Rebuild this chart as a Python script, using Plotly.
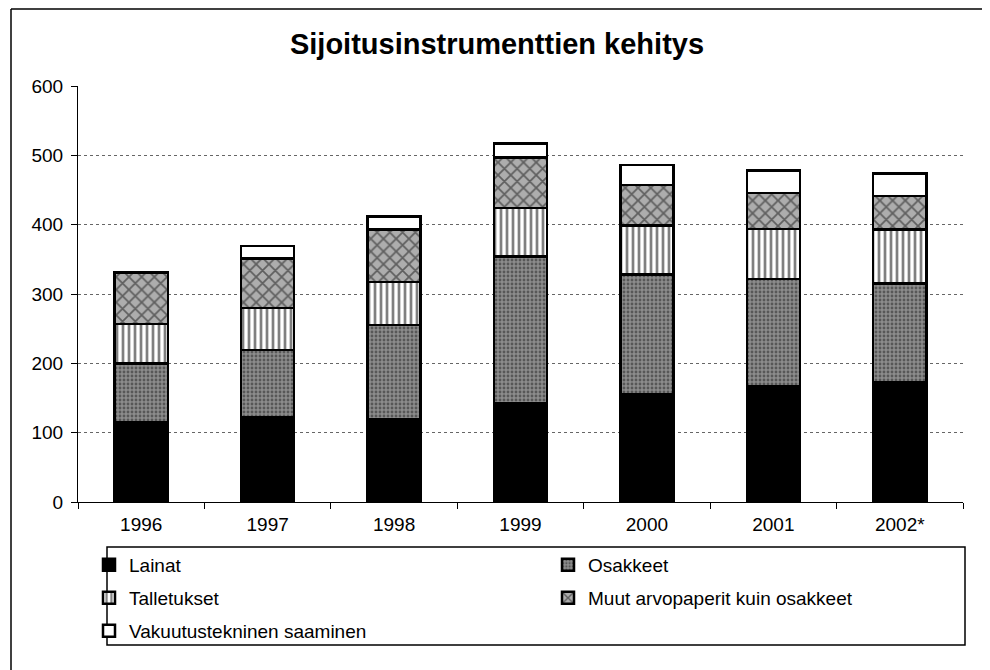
import plotly.graph_objects as go

years = ["1996", "1997", "1998", "1999", "2000", "2001", "2002*"]
lainat = [115, 122, 120, 143, 156, 167, 173]
osakkeet = [85, 97, 135, 211, 172, 155, 142]
talletukset = [57, 61, 62, 70, 71, 72, 78]
muut = [73, 71, 76, 73, 58, 52, 48]
vakuutus = [1, 18, 19, 20, 29, 32, 33]

names = ["Lainat", "Osakkeet", "Talletukset", "Muut arvopaperit kuin osakkeet",
         "Vakuutustekninen saaminen"]

FONT = "Liberation Sans, Arial, sans-serif"

styles = [
    dict(color="#000000", pattern=None),
    dict(color="#7a7a7a", pattern=dict(shape=".", fgcolor="#222222", bgcolor="#8c8c8c", size=4, solidity=0.4)),
    dict(color="#ffffff", pattern=dict(shape="|", fgcolor="#000000", bgcolor="#ffffff", size=6, solidity=0.45)),
    dict(color="#a8a8a8", pattern=dict(shape="x", fgcolor="#111111", bgcolor="#adadad", size=9, solidity=0.35)),
    dict(color="#ffffff", pattern=None),
]

series = [lainat, osakkeet, talletukset, muut, vakuutus]
legend_ids = ["legend", "legend2", "legend3", "legend4", "legend5"]

OFF = 8  # page body margin
W, H = 990 - OFF, 670 - OFF
# plot area in reference (window) pixels
PX0, PX1, PY0, PY1 = 78, 963, 86, 502
L = PX0 - OFF
T = PY0 - OFF
R = W - (PX1 - OFF)
B = H - (PY1 - OFF)
pw, ph = W - L - R, H - T - B

def px(x):
    return (x - OFF - L) / pw

def py(y):
    return (H - B - (y - OFF)) / ph

fig = go.Figure()
for name, vals, st, lid in zip(names, series, styles, legend_ids):
    marker = dict(color=st["color"], line=dict(color="#000000", width=2.5))
    if st["pattern"]:
        marker["pattern"] = st["pattern"]
    fig.add_trace(go.Bar(x=years, y=vals, name=name, marker=marker, legend=lid))

# legend entry anchor points (text start x, row centre y) in window pixels
entry_pos = [(130, 565), (589, 565), (130, 598), (589, 598), (130, 631)]

legend_layouts = {}
for lid, (tx, ty) in zip(legend_ids, entry_pos):
    legend_layouts[lid] = dict(
        x=px(tx - 41), xanchor="left",
        y=py(ty), yanchor="middle",
        bgcolor="rgba(0,0,0,0)", borderwidth=0,
        font=dict(size=19, family=FONT, color="black"),
        itemwidth=30,
    )

fig.update_layout(
    width=W, height=H,
    margin=dict(l=L, r=R, t=T, b=B, autoexpand=False),
    barmode="stack",
    bargap=0.58,
    plot_bgcolor="white",
    paper_bgcolor="white",
    font=dict(family=FONT, size=19, color="black"),
    title=dict(text="<b>Sijoitusinstrumenttien kehitys</b>",
               xref="container", x=(497 - OFF) / W, xanchor="center",
               yref="container", y=1 - (44 - OFF) / H, yanchor="middle",
               font=dict(size=29, family=FONT)),
    showlegend=True,
    xaxis=dict(
        showline=True, linecolor="black", linewidth=1,
        ticks="outside", ticklen=6, tickcolor="black",
        tickson="boundaries", showgrid=False,
        tickfont=dict(size=19),
        ticklabelstandoff=5,
    ),
    yaxis=dict(
        range=[0, 600], dtick=100, tick0=0,
        showline=True, linecolor="black", linewidth=1,
        ticks="outside", ticklen=6, tickcolor="black",
        showgrid=True, gridcolor="#666666", griddash="dot", gridwidth=1,
        zeroline=False,
        tickfont=dict(size=19),
        ticklabelstandoff=4,
    ),
    shapes=[
        dict(type="line", xref="paper", yref="paper", x0=px(11), x1=px(11), y0=py(9), y1=py(672),
             line=dict(color="black", width=1.5)),
        dict(type="line", xref="paper", yref="paper", x0=px(11), x1=px(992), y0=py(9), y1=py(9),
             line=dict(color="black", width=1.5)),
        dict(type="rect", xref="paper", yref="paper", x0=px(107), x1=px(965), y0=py(547), y1=py(645),
             line=dict(color="black", width=1.5), fillcolor="rgba(0,0,0,0)"),
    ],
    **legend_layouts,
)

fig.write_html("out.html")
